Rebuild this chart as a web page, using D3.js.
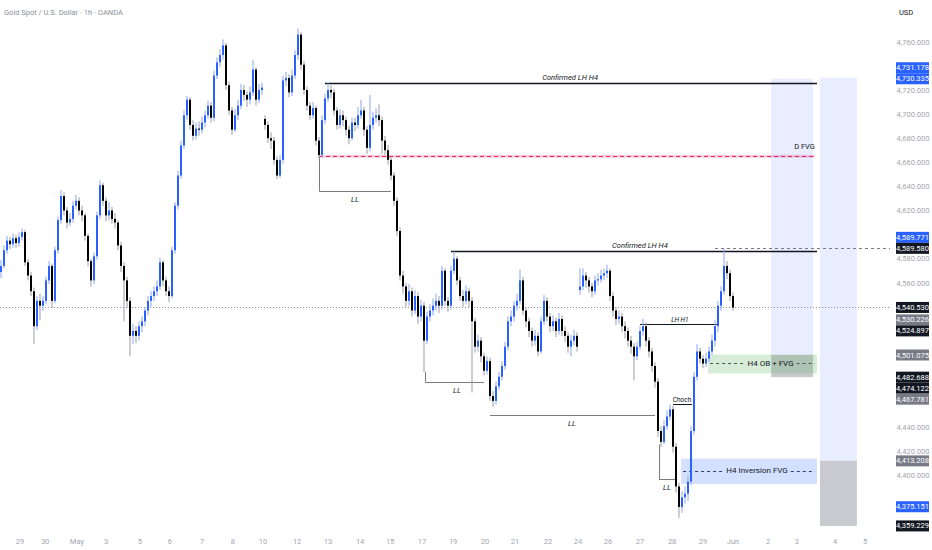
<!DOCTYPE html>
<html><head><meta charset="utf-8">
<script src="https://cdn.jsdelivr.net/npm/d3@7"></script>
<style>html,body{margin:0;padding:0;background:#fff;overflow:hidden}svg{display:block;font-family:Roboto,"Liberation Sans",sans-serif}</style>
</head><body>
<svg id="c" width="932" height="550"></svg>
<script>
// ---------- DATA ----------
const closes = [
4575,4588,4596,4593,4598,4594,4599,4603,4578,4567,
4554,4525,4546,4542,4546,4563,4575,4546,4588,4613,
4633,4621,4611,4614,4625,4629,4621,4617,4600,4579,
4563,4583,4617,4642,4629,4617,4621,4614,4611,4592,
4575,4563,4546,4517,4521,4517,4525,4529,4538,4546,
4550,4554,4558,4578,4563,4554,4550,4588,4625,4650,
4675,4700,4713,4692,4683,4689,4688,4694,4700,4708,
4698,4733,4744,4750,4758,4725,4704,4688,4700,4708,
4721,4717,4713,4719,4738,4713,4721,4723,4692,4681,
4679,4663,4650,4663,4729,4731,4719,4733,4750,4767,
4742,4721,4708,4700,4706,4679,4667,4696,4714,4721,
4719,4704,4692,4700,4696,4688,4681,4694,4692,4700,
4704,4688,4673,4692,4698,4700,4696,4679,4671,4663,
4650,4629,4604,4567,4558,4546,4554,4538,4550,4533,
4542,4513,4533,4538,4542,4546,4542,4571,4546,4542,
4571,4581,4563,4550,4546,4554,4546,4529,4508,4513,
4500,4488,4496,4467,4463,4475,4483,4492,4508,4529,
4533,4542,4546,4563,4538,4529,4521,4513,4517,4504,
4529,4546,4533,4525,4529,4521,4531,4521,4517,4508,
4513,4517,4508,4558,4567,4563,4558,4554,4563,4564,
4567,4569,4571,4550,4538,4531,4533,4525,4521,4513,
4508,4500,4508,4521,4525,4513,4504,4492,4479,4438,
4429,4442,4450,4456,4425,4392,4375,4383,4386,4396,
4438,4483,4504,4498,4494,4498,4504,4513,4525,4542,
4554,4575,4569,4550,4540.53];
const highs = [
4580,4592,4600,4599,4602,4601,4603,4606,4605,4581,
4570,4557,4550,4552,4550,4566,4579,4577,4591,4616,
4638,4636,4624,4619,4629,4634,4632,4625,4619,4602,
4581,4586,4620,4646,4644,4632,4628,4624,4619,4613,
4595,4578,4566,4549,4527,4525,4529,4533,4541,4550,
4554,4558,4563,4582,4580,4566,4558,4591,4628,4654,
4679,4704,4716,4715,4696,4694,4695,4699,4704,4712,
4711,4737,4748,4755,4763,4760,4728,4707,4705,4713,
4726,4725,4720,4724,4746,4740,4726,4727,4700,4695,
4686,4682,4666,4667,4733,4736,4734,4738,4754,4772,
4769,4745,4724,4711,4711,4708,4682,4700,4718,4727,
4725,4722,4707,4705,4704,4699,4691,4698,4698,4707,
4713,4707,4691,4717,4703,4706,4709,4699,4683,4675,
4666,4653,4632,4607,4571,4561,4560,4557,4555,4553,
4547,4545,4537,4543,4548,4552,4550,4575,4573,4549,
4575,4587,4583,4566,4555,4559,4557,4549,4532,4518,
4516,4503,4500,4499,4471,4479,4487,4496,4512,4533,
4538,4546,4552,4572,4566,4541,4532,4524,4522,4520,
4533,4551,4549,4536,4534,4532,4536,4534,4525,4520,
4518,4522,4520,4573,4573,4570,4566,4561,4567,4569,
4572,4573,4576,4573,4553,4541,4538,4536,4529,4524,
4517,4511,4512,4525,4531,4528,4516,4507,4495,4482,
4442,4447,4455,4460,4459,4428,4395,4388,4392,4401,
4442,4487,4510,4507,4501,4503,4508,4518,4530,4546,
4558,4589.77,4579,4572,4553];
const lows = [
4565,4573,4585,4589,4590,4590,4591,4596,4575,4563,
4550,4510,4522,4530,4538,4543,4560,4540,4544,4585,
4610,4617,4606,4608,4611,4622,4617,4612,4596,4575,
4558,4560,4580,4614,4625,4612,4613,4610,4606,4588,
4570,4529,4540,4500,4510,4511,4513,4520,4525,4534,
4541,4546,4550,4555,4558,4550,4545,4548,4585,4622,
4647,4672,4696,4688,4679,4680,4683,4685,4690,4697,
4694,4695,4730,4740,4746,4721,4700,4684,4686,4696,
4705,4712,4707,4709,4716,4708,4710,4717,4688,4677,
4672,4659,4647,4648,4660,4724,4715,4716,4730,4746,
4738,4717,4704,4696,4697,4675,4664,4665,4693,4711,
4714,4700,4688,4689,4691,4683,4676,4679,4687,4689,
4697,4683,4668,4670,4688,4694,4691,4668,4667,4659,
4646,4625,4600,4563,4552,4541,4542,4533,4535,4527,
4529,4487,4510,4529,4534,4538,4536,4539,4542,4537,
4539,4568,4559,4546,4541,4543,4541,4470,4503,4504,
4495,4484,4485,4463,4458,4460,4472,4480,4489,4505,
4525,4529,4538,4543,4534,4524,4516,4508,4509,4500,
4502,4526,4529,4520,4521,4516,4518,4517,4512,4503,
4500,4509,4504,4551,4555,4557,4553,4549,4551,4559,
4561,4563,4565,4546,4533,4526,4527,4520,4515,4508,
4502,4480,4497,4505,4517,4508,4499,4487,4474,4433,
4425,4427,4439,4447,4420,4387,4366,4370,4378,4380,
4393,4435,4480,4494,4490,4491,4495,4501,4508,4520,
4538,4551,4564,4546,4538];
const firstOpen = 4570;
const sessionOpens = [[88, 4697], [193, 4555]];   // opens after weekend gaps

const xTickLabels = ["29","30","May","3","5","6","7","8","10","12","13","14","15","17","19","20","21","22","24","26","27","28","29","Jun","2","3","4","5"];
const xTickIdx = [6.3,14.7,25.3,35,46.3,56.3,67,77.3,87.3,98.7,109,119.7,129.7,140.3,150.7,161.3,171.3,182.3,192.3,202.3,213,223.7,234,244,255.7,265.3,278,288];
const yTickValues = [4380,4400,4420,4440,4460,4480,4500,4520,4540,4560,4580,4600,4620,4640,4660,4680,4700,4720,4740,4760];

const axisLabelValues = [4731.178,4730.335,4589.771,4589.580,4540.530,4530.226,4524.897,4501.075,4482.688,4474.122,4467.781,4413.208,4375.151,4359.229];
const axisLabelKinds  = ["blue","blue","blue","black","black","grey","black","grey","black","black","grey","grey","blue","black"];
const lastPrice = 4540.53;

// ---------- SETUP ----------
const svg = d3.select("#c");
const paneRight = 890;
const x = d3.scaleLinear().domain([0, 296]).range([1, 889]);
const y = d3.scaleLinear().domain([4360, 4760]).range([525, 43]);
const FONT = 7.5;

const opensMap = new Map(sessionOpens);
const candles = closes.map((c, i) => ({
  i, c, h: highs[i], l: lows[i],
  o: i === 0 ? firstOpen : (opensMap.has(i) ? opensMap.get(i) : closes[i - 1])
}));

const gBack = svg.append("g");
const gMid = svg.append("g");
const gCandles = svg.append("g");
const gFront = svg.append("g");

// ---------- POSITION TOOLS ----------
const positions = [
  {i0: 256.7, i1: 270.7, target: 4730.335, entry: 4501.075, stop: 4482.688},
  {i0: 273,   i1: 285.3, target: 4731.178, entry: 4413.208, stop: 4359.229}
];
positions.forEach(p => {
  gBack.append("rect").attr("x", x(p.i0)).attr("width", x(p.i1) - x(p.i0))
    .attr("y", y(p.target)).attr("height", y(p.entry) - y(p.target))
    .attr("fill", "rgba(41,98,255,0.11)");
  gBack.append("rect").attr("x", x(p.i0)).attr("width", x(p.i1) - x(p.i0))
    .attr("y", y(p.entry)).attr("height", y(p.stop) - y(p.entry))
    .attr("fill", "rgba(120,123,134,0.40)");
});

// ---------- ZONES ----------
function zone(i0, i1, top, bot, mid, fill, dashColor, label) {
  gBack.append("rect").attr("x", x(i0)).attr("width", x(i1) - x(i0))
    .attr("y", y(top)).attr("height", y(bot) - y(top)).attr("fill", fill);
  const t = gFront.append("text").attr("x", (x(i0) + x(i1)) / 2 + 8).attr("y", y(mid))
    .attr("dominant-baseline", "central").attr("text-anchor", "middle")
    .attr("font-size", FONT + 0.5).attr("fill", "#131722").text(label);
  const bb = t.node().getBBox();
  [[x(i0) + 2, bb.x - 3], [bb.x + bb.width + 3, x(i1) - 2]].forEach(s => {
    gMid.append("line").attr("x1", s[0]).attr("x2", s[1]).attr("y1", Math.round(y(mid)) + 0.5).attr("y2", Math.round(y(mid)) + 0.5)
      .attr("stroke", dashColor).attr("stroke-width", 1).attr("stroke-dasharray", "3,3");
  });
}
zone(235.7, 272, 4501.5, 4485.7, 4494.4, "rgba(76,175,80,0.22)", "#3f5f3f", "H4 OB + FVG");
zone(226.7, 272, 4415, 4394, 4405, "rgba(41,98,255,0.20)", "#2a3f7a", "H4 Inversion FVG");

// ---------- LEVEL LINES ----------
function hline(g, i0, i1, price, color, width, dash) {
  const yy = Math.round(y(price)) + 0.5;
  const l = g.append("line").attr("x1", typeof i0 === "number" ? x(i0) : i0.px).attr("x2", typeof i1 === "number" ? x(i1) : i1.px)
    .attr("y1", yy).attr("y2", yy).attr("stroke", color).attr("stroke-width", width);
  if (dash) l.attr("stroke-dasharray", dash);
  return yy;
}
function vline(g, i, p0, p1, color) {
  const xx = Math.round(x(i)) + 0.5;
  g.append("line").attr("x1", xx).attr("x2", xx).attr("y1", y(p0)).attr("y2", y(p1))
    .attr("stroke", color).attr("stroke-width", 1);
}
function label(txt, i, yy, opts = {}) {
  gFront.append("text").attr("x", x(i)).attr("y", yy)
    .attr("text-anchor", opts.anchor || "middle")
    .attr("font-size", opts.size || FONT)
    .attr("font-style", opts.italic ? "italic" : "normal")
    .attr("fill", "#131722").text(txt);
}

// last price dotted
hline(gMid, {px: 0}, {px: paneRight}, lastPrice, "#8a8d96", 1, "1,2");
// 4589.58 dashed
hline(gMid, 238, {px: paneRight}, 4589.58, "#787b86", 1, "3,3");

// D FVG
gMid.append("rect").attr("x", x(106)).attr("width", x(271.3) - x(106))
  .attr("y", y(4666) - 1.5).attr("height", 3).attr("fill", "rgba(233,30,99,0.22)");
hline(gMid, 106, 271.3, 4666, "#e0245e", 1, "4,3");
label("D FVG", 271.3, y(4666) - 7, {anchor: "end"});

// Confirmed LH H4 lines
let yy = hline(gMid, 108, 272, 4727, "#131722", 1.5);
label("Confirmed LH H4", 189.7, yy - 4, {italic: true});
yy = hline(gMid, 150, 272, 4587.6, "#131722", 1.5);
label("Confirmed LH H4", 213, yy - 4, {italic: true});

// LL structure markers
const grey = "#787b86";
vline(gMid, 106, 4666, 4637.5, grey);
yy = hline(gMid, 106, 130, 4637.5, grey, 1);
label("LL", 118, yy + 10, {italic: true});

vline(gMid, 141.3, 4487, 4479, grey);
yy = hline(gMid, 141.3, 161, 4479, grey, 1);
label("LL", 152, yy + 10, {italic: true});

yy = hline(gMid, 163, 218, 4451.7, grey, 1);
label("LL", 190.3, yy + 10, {italic: true});

vline(gMid, 219.3, 4426.7, 4398.3, grey);
yy = hline(gMid, 219.3, 224.7, 4398.3, grey, 1);
label("LL", 222, yy + 10, {italic: true});

// LH H1
yy = hline(gMid, 213, 238.7, 4526.7, "#131722", 1);
label("LH H1", 226.3, yy - 3, {italic: true, size: 6.5});
// Choch
yy = hline(gMid, 224, 230.3, 4460.8, "#131722", 1);
label("Choch", 227, yy - 3, {size: 6.5});

// ---------- CANDLES ----------
const upBody = "#2962ff", dnBody = "#000000", upWick = "#8ea6f2", dnWick = "#9b9da4";
gCandles.selectAll("rect.w").data(candles).join("rect").attr("class", "w")
  .attr("x", d => x(d.i) - 0.5).attr("width", 1)
  .attr("y", d => y(d.h)).attr("height", d => Math.max(1, y(d.l) - y(d.h)))
  .attr("fill", d => d.c >= d.o ? upWick : dnWick);
gCandles.selectAll("rect.b").data(candles).join("rect").attr("class", "b")
  .attr("x", d => x(d.i) - 1).attr("width", 2)
  .attr("y", d => y(Math.max(d.o, d.c)))
  .attr("height", d => Math.max(1, Math.abs(y(d.o) - y(d.c))))
  .attr("fill", d => d.c >= d.o ? upBody : dnBody);

// ---------- AXES ----------
svg.append("text").attr("x", 4).attr("y", 15).attr("font-size", FONT).attr("fill", "#8c8f98")
  .text("Gold Spot / U.S. Dollar · 1h · OANDA");
svg.append("text").attr("x", 906).attr("y", 15).attr("text-anchor", "middle").attr("font-size", FONT)
  .attr("fill", "#131722").text("USD");

const gx = svg.append("g");
gx.selectAll("text").data(xTickLabels).join("text")
  .attr("x", (d, k) => x(xTickIdx[k])).attr("y", 544).attr("text-anchor", "middle")
  .attr("font-size", FONT).attr("fill", "#a3a6af").text(d => d);

// price labels with collision handling
const kindColor = {blue: "#2962ff", black: "#131722", grey: "#787b86"};
const lbls = axisLabelValues.map((v, k) => ({v, kind: axisLabelKinds[k], yy: y(v)}))
  .sort((a, b) => b.v - a.v);
const li = lbls.findIndex(d => Math.abs(d.v - lastPrice) < 1e-6);
for (let k = li - 1; k >= 0; k--) lbls[k].yy = Math.min(lbls[k].yy, lbls[k + 1].yy - 11);
for (let k = li + 1; k < lbls.length; k++) lbls[k].yy = Math.max(lbls[k].yy, lbls[k - 1].yy + 11);

// y tick labels, hidden where a price label covers them
const visibleTicks = yTickValues.filter(v => lbls.every(l => Math.abs(l.yy - y(v)) > 7));
const gy = svg.append("g");
gy.selectAll("text").data(visibleTicks).join("text")
  .attr("x", 913).attr("y", d => y(d) - 1).attr("dominant-baseline", "central")
  .attr("text-anchor", "middle").attr("font-size", FONT).attr("fill", "#a3a6af")
  .text(d => d3.format(",.3f")(d));

const gl = svg.append("g");
lbls.forEach(d => {
  gl.append("rect").attr("x", 896).attr("y", d.yy - 5.5).attr("width", 33).attr("height", 11)
    .attr("fill", kindColor[d.kind]);
  gl.append("text").attr("x", 912.5).attr("y", d.yy).attr("dominant-baseline", "central")
    .attr("text-anchor", "middle").attr("font-size", FONT).attr("fill", "#ffffff")
    .text(d3.format(",.3f")(d.v));
});
</script>
</body></html>
